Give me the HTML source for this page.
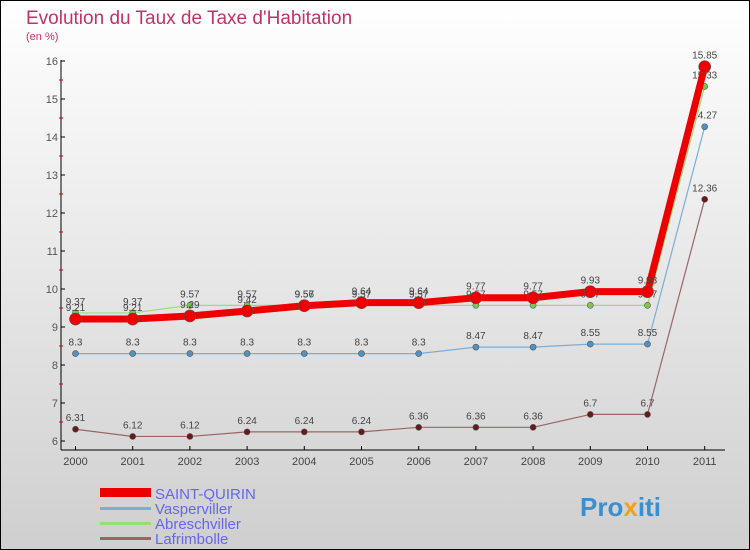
<!DOCTYPE html>
<html><head><meta charset="utf-8"><style>
body{margin:0}
svg{display:block;font-family:"Liberation Sans",sans-serif}
</style></head><body>
<svg id="c" width="750" height="550">
<defs><linearGradient id="bg" x1="0" y1="0" x2="0" y2="1"><stop offset="0" stop-color="#ffffff"/><stop offset="1" stop-color="#cfcfcf"/></linearGradient></defs>
<rect x="0.5" y="0.5" width="749" height="549" fill="url(#bg)" stroke="#000"/>
<text x="26" y="24" font-size="19" fill="#c0336a">Evolution du Taux de Taxe d'Habitation</text>
<text x="26" y="40" font-size="11" fill="#c0336a">(en %)</text>
<g id="axes"></g><g id="series"></g>
<g>
<rect x="100" y="488" width="51" height="9" fill="#e00"/>
<text x="155" y="499" font-size="15" fill="#6666ee">SAINT-QUIRIN</text>
<rect x="100" y="507" width="51" height="3" fill="#7aaed8"/>
<text x="155" y="514" font-size="15" fill="#6666ee">Vasperviller</text>
<rect x="100" y="522" width="51" height="3" fill="#99dd77"/>
<text x="155" y="529" font-size="15" fill="#6666ee">Abreschviller</text>
<rect x="100" y="537" width="51" height="3" fill="#996666"/>
<text x="155" y="544" font-size="15" fill="#6666ee">Lafrimbolle</text>
</g>
<text x="580" y="516" font-size="26" font-weight="bold" fill="#3a8fd0">Pro<tspan fill="#f0a020">x</tspan>iti</text>
</svg>
<script>
const years=["2000","2001","2002","2003","2004","2005","2006","2007","2008","2009","2010","2011"];
const yTicks=[6,7,8,9,10,11,12,13,14,15,16];
const saintQuirin=[9.21,9.21,9.29,9.42,9.56,9.64,9.64,9.77,9.77,9.93,9.93,15.85];
const vasperviller=[8.3,8.3,8.3,8.3,8.3,8.3,8.3,8.47,8.47,8.55,8.55,14.27];
const abreschviller=[9.37,9.37,9.57,9.57,9.57,9.57,9.57,9.57,9.57,9.57,9.57,15.33];
const lafrimbolle=[6.31,6.12,6.12,6.24,6.24,6.24,6.36,6.36,6.36,6.7,6.7,12.36];
const NS="http://www.w3.org/2000/svg";
const X=i=>75.5+i*57.2;
const Y=v=>441-(v-6)*38;
function mk(t,a,p){const e=document.createElementNS(NS,t);for(const k in a)e.setAttribute(k,a[k]);p.appendChild(e);return e;}
const ax=document.getElementById('axes');
const ya=mk('line',{x1:61,y1:60,x2:61,y2:450,stroke:'#000'},ax);


const xa=mk('line',{x1:61,y1:450,x2:725,y2:450,stroke:'#000'},ax);


yTicks.forEach(v=>{
 mk('line',{x1:61,y1:Y(v),x2:65,y2:Y(v),stroke:'#000'},ax);
 if(v<16)mk('line',{x1:59,y1:Y(v+0.5),x2:63,y2:Y(v+0.5),stroke:'#d00'},ax);
 const t=mk('text',{x:58,y:Y(v)+4,'font-size':11,fill:'#555','text-anchor':'end'},ax);
 t.textContent=v;
 
 
});
years.forEach((y,i)=>{
 mk('line',{x1:X(i),y1:446,x2:X(i),y2:450,stroke:'#000'},ax);
 const t=mk('text',{x:X(i),y:465,'font-size':11,fill:'#444','text-anchor':'middle'},ax);
 t.textContent=y;
 
 
});
const sg=document.getElementById('series');
function draw(name,vals,color,w,r,dot){
 const g=mk('g',{},sg);
 
 
 mk('polyline',{points:vals.map((v,i)=>X(i)+','+Y(v)).join(' '),fill:'none',stroke:color,'stroke-width':w,'stroke-linejoin':'round'},g);
 vals.forEach((v,i)=>{
  const c=mk('circle',{cx:X(i),cy:Y(v),r:r,fill:dot,stroke:'#555','stroke-width':0.6},g);
  
  
  const t=mk('text',{x:X(i),y:Y(v)-8,'font-size':10,fill:'#444','text-anchor':'middle'},g);
  t.textContent=v;
  
  
 });
}
draw('lafrimbolle',lafrimbolle,'#996666',1.2,3,'#661a1a');
draw('vasperviller',vasperviller,'#7aaed8',1.2,3,'#4f92c9');
draw('abreschviller',abreschviller,'#99dd77',1.2,3,'#77cc44');
draw('saint-quirin',saintQuirin,'#e00',7,6,'#e00');
</script>
</body></html>
